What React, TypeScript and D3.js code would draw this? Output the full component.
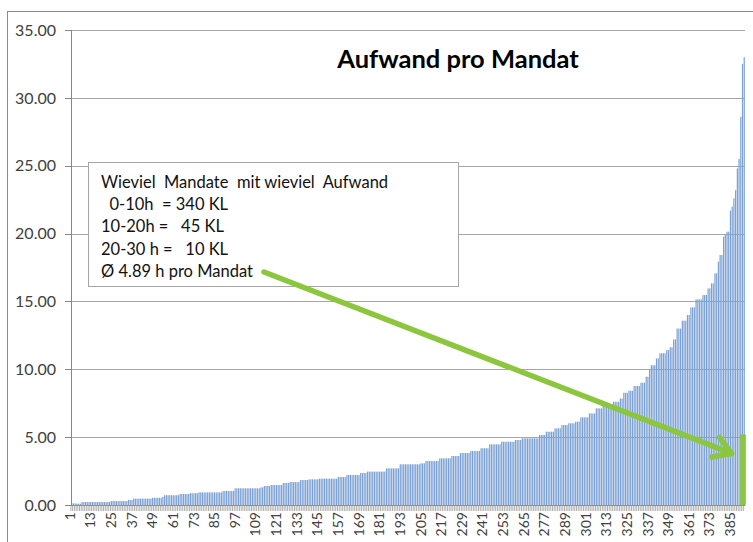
import * as d3 from 'd3';
import React, { useRef, useEffect } from 'react';

// hours per mandate, sorted ascending (392 bars)
const hours: number[] = [
    0.12, 0.12, 0.12, 0.10, 0.10, 0.10, 0.22, 0.22, 0.22, 0.22, 0.22, 0.22,
    0.22, 0.22, 0.22, 0.22, 0.22, 0.22, 0.22, 0.22, 0.22, 0.22, 0.22, 0.29,
    0.29, 0.29, 0.29, 0.29, 0.29, 0.29, 0.29, 0.29, 0.29, 0.37, 0.37, 0.37,
    0.47, 0.47, 0.47, 0.47, 0.47, 0.47, 0.47, 0.47, 0.47, 0.47, 0.47, 0.53,
    0.53, 0.53, 0.53, 0.53, 0.53, 0.60, 0.72, 0.72, 0.72, 0.72, 0.72, 0.72,
    0.72, 0.72, 0.72, 0.81, 0.81, 0.81, 0.81, 0.81, 0.81, 0.87, 0.87, 0.87,
    0.87, 0.87, 0.93, 0.93, 0.93, 0.93, 0.93, 0.93, 0.93, 0.93, 0.93, 0.93,
    0.93, 0.93, 0.93, 0.93, 1.03, 1.03, 1.03, 1.03, 1.03, 1.03, 1.03, 1.23,
    1.23, 1.23, 1.23, 1.23, 1.23, 1.23, 1.23, 1.23, 1.23, 1.23, 1.23, 1.23,
    1.23, 1.23, 1.30, 1.30, 1.40, 1.40, 1.40, 1.40, 1.47, 1.47, 1.47, 1.47,
    1.47, 1.47, 1.47, 1.62, 1.62, 1.62, 1.62, 1.69, 1.69, 1.69, 1.69, 1.69,
    1.69, 1.84, 1.84, 1.84, 1.84, 1.84, 1.89, 1.89, 1.89, 1.89, 1.89, 1.89,
    1.94, 1.94, 1.94, 1.94, 1.94, 1.94, 1.94, 1.94, 1.94, 1.94, 1.94, 2.06,
    2.06, 2.06, 2.06, 2.06, 2.21, 2.21, 2.21, 2.21, 2.21, 2.21, 2.21, 2.21,
    2.36, 2.36, 2.36, 2.36, 2.46, 2.46, 2.46, 2.46, 2.46, 2.46, 2.46, 2.46,
    2.46, 2.46, 2.46, 2.70, 2.70, 2.70, 2.70, 2.70, 2.70, 2.70, 2.70, 3.00,
    3.00, 3.00, 3.00, 3.00, 3.00, 3.00, 3.00, 3.00, 3.00, 3.00, 3.00, 3.07,
    3.07, 3.07, 3.24, 3.24, 3.24, 3.24, 3.24, 3.24, 3.24, 3.24, 3.44, 3.44,
    3.44, 3.44, 3.44, 3.44, 3.44, 3.61, 3.61, 3.61, 3.61, 3.61, 3.83, 3.83,
    3.83, 3.83, 3.83, 3.83, 3.98, 3.98, 3.98, 3.98, 3.98, 3.98, 4.18, 4.18,
    4.18, 4.18, 4.18, 4.47, 4.47, 4.47, 4.47, 4.47, 4.47, 4.47, 4.66, 4.66,
    4.66, 4.66, 4.66, 4.66, 4.66, 4.66, 4.79, 4.79, 4.79, 4.79, 4.91, 4.91,
    4.91, 4.91, 4.91, 4.91, 4.91, 4.91, 4.91, 4.91, 5.16, 5.16, 5.16, 5.16,
    5.40, 5.40, 5.40, 5.40, 5.40, 5.65, 5.65, 5.65, 5.65, 5.89, 5.89, 5.89,
    5.89, 6.02, 6.02, 6.02, 6.02, 6.14, 6.14, 6.14, 6.46, 6.46, 6.46, 6.46,
    6.46, 6.75, 6.75, 6.75, 6.75, 7.12, 7.12, 7.12, 7.12, 7.37, 7.37, 7.37,
    7.37, 7.37, 7.37, 7.61, 7.61, 7.61, 7.61, 7.85, 7.85, 8.27, 8.27, 8.27,
    8.42, 8.42, 8.42, 8.77, 8.77, 8.77, 8.77, 9.01, 9.01, 9.01, 9.45, 9.45,
    9.95, 10.3, 10.3, 10.3, 10.8, 10.8, 11.18, 11.18, 11.18, 11.18, 11.42, 11.42,
    11.62, 11.62, 12.2, 12.2, 13.0, 13.0, 13.0, 13.58, 13.58, 13.58, 14.0, 14.0,
    14.56, 14.56, 14.56, 15.15, 15.15, 15.15, 15.15, 15.47, 15.47, 15.47, 15.96, 15.96,
    16.33, 16.33, 17.07, 17.07, 17.93, 18.42, 18.42, 19.77, 19.9, 20.14, 20.14, 21.7,
    21.98, 22.6, 23.2, 24.8, 25.5, 28.6, 32.5, 33.0,
];

const xTickLabels = [
    '1', '13', '25', '37', '49', '61', '73', '85', '97', '109', '121', '133',
    '145', '157', '169', '181', '193', '205', '217', '229', '241', '253', '265',
    '277', '289', '301', '313', '325', '337', '349', '361', '373', '385',
];
const yTicks = [0, 5, 10, 15, 20, 25, 30, 35];

const title = 'Aufwand pro Mandat';
const noteLines = [
    'Wieviel  Mandate  mit wieviel  Aufwand',
    '  0-10h  = 340 KL',
    '10-20h =   45 KL',
    '20-30 h =   10 KL',
    'Ø 4.89 h pro Mandat',
];
const avgMarkerValue = 5.2; // green highlight at the far right

const W = 753;
const H = 542;
const FONT = "Lato, 'Open Sans', sans-serif";

export default function App() {
    const ref = useRef<SVGSVGElement | null>(null);

    useEffect(() => {
        const svg = d3.select(ref.current);
        svg.selectAll('*').remove();

        const cats = hours.map((_, i) => String(i + 1));
        const x = d3.scaleBand().domain(cats).range([71, 745]).paddingInner(0.3).paddingOuter(0.1);
        const y = d3.scaleLinear().domain([0, 35]).range([505, 30]);
        const step = x.step();

        // chart frame
        svg.append('rect')
            .attr('x', 7.5).attr('y', 11.5)
            .attr('width', W).attr('height', H)
            .attr('fill', 'white')
            .attr('stroke', '#8c8c8c');

        // gridlines
        svg.append('g')
            .selectAll('line')
            .data(yTicks.filter((t) => t > 0))
            .join('line')
            .attr('x1', 71).attr('x2', 745)
            .attr('y1', (d) => Math.round(y(d)) + 0.5)
            .attr('y2', (d) => Math.round(y(d)) + 0.5)
            .attr('stroke', '#a6a6a6');

        // bars
        svg.append('g')
            .selectAll('rect')
            .data(hours)
            .join('rect')
            .attr('x', (_, i) => x(cats[i])!)
            .attr('width', x.bandwidth())
            .attr('y', (d) => y(d))
            .attr('height', (d) => y(0) - y(d))
            .attr('fill', '#7aa0d5');

        // y axis line + ticks + labels
        svg.append('line')
            .attr('x1', 71.5).attr('x2', 71.5).attr('y1', 30).attr('y2', 505)
            .attr('stroke', '#868686');
        const yg = svg.append('g');
        yg.selectAll('line')
            .data(yTicks)
            .join('line')
            .attr('x1', 65).attr('x2', 71)
            .attr('y1', (d) => Math.round(y(d)) + 0.5)
            .attr('y2', (d) => Math.round(y(d)) + 0.5)
            .attr('stroke', '#868686');
        yg.selectAll('text')
            .data(yTicks)
            .join('text')
            .attr('x', 56)
            .attr('y', (d) => y(d))
            .attr('dy', '0.36em')
            .attr('text-anchor', 'end')
            .style('font-family', FONT)
            .style('font-size', '16px')
            .attr('fill', '#404040')
            .text((d) => d.toFixed(2));

        // x axis line + a tick per category
        svg.append('line')
            .attr('x1', 71).attr('x2', 745).attr('y1', 505.5).attr('y2', 505.5)
            .attr('stroke', '#868686');
        svg.append('g')
            .selectAll('line')
            .data(cats)
            .join('line')
            .attr('x1', (d) => x(d)! - (step - x.bandwidth()) / 2)
            .attr('x2', (d) => x(d)! - (step - x.bandwidth()) / 2)
            .attr('y1', 505).attr('y2', 511)
            .attr('stroke', '#9a9a9a')
            .attr('stroke-width', 0.8);

        svg.append('g')
            .selectAll('text')
            .data(xTickLabels)
            .join('text')
            .attr('transform', (d) => `translate(${x(d)! + x.bandwidth() / 2 - 2},512) rotate(-90)`)
            .attr('dy', '0.35em')
            .attr('text-anchor', 'end')
            .style('font-family', FONT)
            .style('font-size', '14px')
            .attr('fill', '#404040')
            .text((d) => d);

        // title
        svg.append('text')
            .attr('x', 458).attr('y', 68)
            .attr('text-anchor', 'middle')
            .style('font-family', FONT)
            .style('font-size', '25.5px')
            .style('font-weight', 'bold')
            .attr('fill', '#000')
            .text(title);

        // note box
        svg.append('rect')
            .attr('x', 88.5).attr('y', 162.5)
            .attr('width', 370).attr('height', 124)
            .attr('fill', 'white')
            .attr('stroke', '#a6a6a6');
        svg.append('g')
            .selectAll('text')
            .data(noteLines)
            .join('text')
            .attr('x', 101)
            .attr('y', (_, i) => 188 + i * 22.2)
            .style('font-family', FONT)
            .style('font-size', '16.5px')
            .style('white-space', 'pre')
            .attr('fill', '#111')
            .text((d) => d);

        // green highlight bar at the right end
        const lastThree = cats.slice(-3);
        svg.append('rect')
            .attr('x', x(lastThree[0])!)
            .attr('width', x(lastThree[2])! + x.bandwidth() - x(lastThree[0])! + 1)
            .attr('y', y(avgMarkerValue))
            .attr('height', y(0) - y(avgMarkerValue))
            .attr('fill', '#8cc63f');

        // arrow from the note to the highlight
        const tipX = x(cats[cats.length - 8])!;
        const tipY = y(3.8);
        const sx = 264;
        const sy = 272;
        const ang = Math.atan2(tipY - sy, tipX - sx);
        const head = 20;
        const spread = 0.55;
        const arrow = svg.append('g')
            .attr('stroke', '#8cc63f')
            .attr('stroke-width', 5.5)
            .attr('stroke-linecap', 'round')
            .attr('stroke-linejoin', 'round')
            .attr('fill', 'none');
        arrow.append('line')
            .attr('x1', sx).attr('y1', sy)
            .attr('x2', tipX).attr('y2', tipY);
        arrow.append('path')
            .attr('d', d3.line()([
                [tipX - head * Math.cos(ang - spread), tipY - head * Math.sin(ang - spread)],
                [tipX, tipY],
                [tipX - head * Math.cos(ang + spread), tipY - head * Math.sin(ang + spread)],
            ]));
    }, []);

    return (
        <div style={{ position: 'fixed', left: 0, top: 0 }}>
            <svg ref={ref} width={W} height={H} style={{ display: 'block' }} />
        </div>
    );
}
